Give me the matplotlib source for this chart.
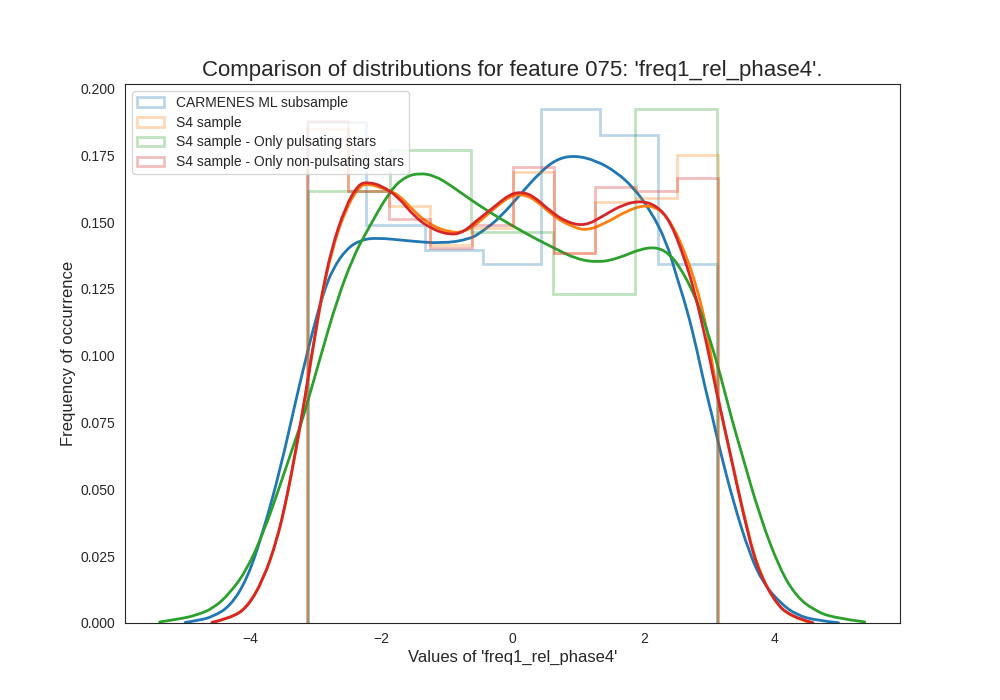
import numpy as np
import matplotlib
matplotlib.use("Agg")
import matplotlib.pyplot as plt
from matplotlib.path import Path
from matplotlib.patches import PathPatch

plt.rcParams["font.family"] = ["Liberation Sans", "DejaVu Sans"]
plt.rcParams["text.color"] = ".15"
plt.rcParams["axes.labelcolor"] = ".15"
plt.rcParams["xtick.color"] = ".15"
plt.rcParams["ytick.color"] = ".15"
plt.rcParams["axes.edgecolor"] = ".15"

feature = "freq1_rel_phase4"
labels = ["CARMENES ML subsample", "S4 sample",
          "S4 sample - Only pulsating stars", "S4 sample - Only non-pulsating stars"]
colors = ["tab:blue", "tab:orange", "tab:green", "tab:red"]

# histogram heights and data range
hist_blue = [.1875, .149, .1395, .1345, .1924, .1827, .1345]
hist_orange = [.1848, .1617, .1559, .1413, .1477, .1686, .1386, .1574, .1592, .1751]
hist_green = [.1617, .177, .1463, .123, .1924]
hist_red = [.188, .1617, .151, .1405, .149, .1705, .1386, .1632, .1615, .1667]
hist_lo = [-3.12, -3.13, -3.115, -3.13]
hist_hi = [3.11, 3.135, 3.11, 3.135]

# density curves
kde_blue_x = [-4.99, -4.76, -4.57, -4.31, -4.05, -3.80, -3.54, -3.30, -3.19, -3.04, -2.88, -2.74,
              -2.53, -2.32, -2.07, -1.59, -1.08, -0.65, -0.45, -0.19, 0.165, 0.42, 0.67, 0.95,
              1.28, 1.59, 1.84, 2.10, 2.35, 2.50, 2.66, 2.81, 2.93, 3.05, 3.16, 3.37, 3.62,
              3.82, 4.08, 4.33, 4.64, 4.97]
kde_blue_y = [.0002, .0011, .0024, .0061, .0161, .0342, .0575, .0836, .0949, .1099, .1237, .1325,
              .1400, .1433, .1442, .1430, .1420, .1436, .1467, .1517, .1617, .1686, .1736, .1750,
              .1730, .1686, .1630, .1545, .1425, .1298, .1174, .1024, .0886, .0769, .0649, .0450, .0255,
              .0150, .0075, .0030, .0009, .0001]

kde_orange_x = [-4.58, -4.31, -4.05, -3.80, -3.59, -3.44, -3.29, -3.16, -3.06, -2.96, -2.91, -2.76,
                -2.55, -2.35, -2.22, -1.99, -1.74, -1.49, -1.23, -0.95, -0.75, -0.55, -0.29, -0.04,
                0.165, 0.37, 0.62, 0.88, 1.13, 1.44, 1.74, 2.02, 2.25, 2.45, 2.66, 2.81, 2.91,
                2.96, 3.07, 3.19, 3.32, 3.52, 3.72, 3.98, 4.23, 4.55]
kde_orange_y = [.0002, .0018, .0057, .0163, .0310, .0465, .0660, .0840, .1000, .1145, .1215, .1390,
                .1545, .1630, .1645, .1628, .1605, .1537, .1486, .1462, .1462, .1492, .1549, .1598,
                .1605, .1580, .1523, .1486, .1467, .1499, .1542, .1565, .1549, .1486, .1367, .1255, .1155,
                .1099, .0934, .0769, .0637, .0412, .0217, .0086, .0023, .0001]

kde_green_x = [-5.38, -5.07, -4.81, -4.56, -4.31, -4.05, -3.80, -3.54, -3.29, -3.19, -2.93, -2.68,
               -2.43, -2.22, -1.87, -1.64, -1.41, -1.18, -0.95, -0.65, -0.34, -0.04, 0.32, 0.62,
               0.98, 1.33, 1.64, 1.94, 2.20, 2.40, 2.55, 2.71, 2.86, 3.01, 3.16, 3.34, 3.47,
               3.77, 4.08, 4.33, 4.59, 4.89, 5.37]
kde_green_y = [.0004, .0015, .0030, .0055, .0111, .0199, .0336, .0517, .0700, .0769, .0994, .1205,
               .1369, .1467, .1617, .1670, .1684, .1673, .1639, .1586, .1536, .1492, .1442, .1405,
               .1361, .1349, .1367, .1399, .1407, .1380, .1331, .1261, .1174, .1061, .0937, .0765, .0655,
               .0399, .0199, .0099, .0049, .0019, .0004]

kde_red_x = [-4.58, -4.31, -4.05, -3.80, -3.59, -3.44, -3.29, -3.16, -3.06, -2.96, -2.91, -2.76,
             -2.55, -2.35, -2.20, -1.99, -1.74, -1.49, -1.23, -0.95, -0.75, -0.55, -0.29, -0.04,
             0.14, 0.32, 0.57, 0.83, 1.11, 1.38, 1.69, 1.97, 2.20, 2.40, 2.60, 2.76, 2.91,
             3.01, 3.11, 3.20, 3.32, 3.52, 3.72, 3.98, 4.23, 4.58]
kde_red_y = [.0002, .0018, .0055, .0161, .0311, .0470, .0665, .0850, .1005, .1150, .1225, .1400,
             .1556, .1642, .1650, .1636, .1594, .1519, .1474, .1452, .1462, .1505, .1555, .1605,
             .1613, .1598, .1542, .1499, .1486, .1523, .1567, .1580, .1561, .1505, .1380, .1255, .1099,
             .0986, .0862, .0769, .0630, .0405, .0211, .0086, .0024, .0001]

hists = [hist_blue, hist_orange, hist_green, hist_red]
kdes = [(kde_blue_x, kde_blue_y), (kde_orange_x, kde_orange_y),
        (kde_green_x, kde_green_y), (kde_red_x, kde_red_y)]


def curve_path(xs, ys):
    # Read points become the control points of a smooth curve
    pts = np.column_stack([xs, ys])
    verts = [pts[0]]
    codes = [Path.MOVETO]
    for i in range(1, len(pts) - 1):
        end = (pts[i] + pts[i + 1]) / 2 if i < len(pts) - 2 else pts[i + 1]
        verts += [pts[i], end]
        codes += [Path.CURVE3, Path.CURVE3]
    return Path(verts, codes)


fig, ax = plt.subplots(figsize=(10, 7), dpi=100)

for i in range(len(hists)):
    # Step outline plus the density line on top
    edges = np.linspace(hist_lo[i], hist_hi[i], len(hists[i]) + 1)
    ax.hist(edges[:-1], bins=edges, weights=hists[i], histtype="step",
            linewidth=2, alpha=0.3, color=colors[i], label=labels[i])
    ax.add_patch(PathPatch(curve_path(*kdes[i]), fill=False, edgecolor=colors[i],
                           linewidth=2, zorder=2, capstyle="round"))

ax.set_xlim(-5.907, 5.907)
ax.set_ylim(0, 0.2017)
ax.set_xticks([-4, -2, 0, 2, 4])
ax.set_yticks(np.arange(0, 0.201, 0.025))
ax.tick_params(left=False, bottom=False)
ax.tick_params(axis="x", pad=2.8)

ax.set_title(f"Comparison of distributions for feature 075: '{feature}'.", fontsize=16)
ax.set_xlabel(f"Values of '{feature}'", fontsize=12, labelpad=3)
ax.set_ylabel("Frequency of occurrence", fontsize=12, labelpad=3)
ax.legend(loc="upper left", labelspacing=0.43, borderpad=0.33, handletextpad=0.87)

fig.savefig("out.png", dpi=100)
